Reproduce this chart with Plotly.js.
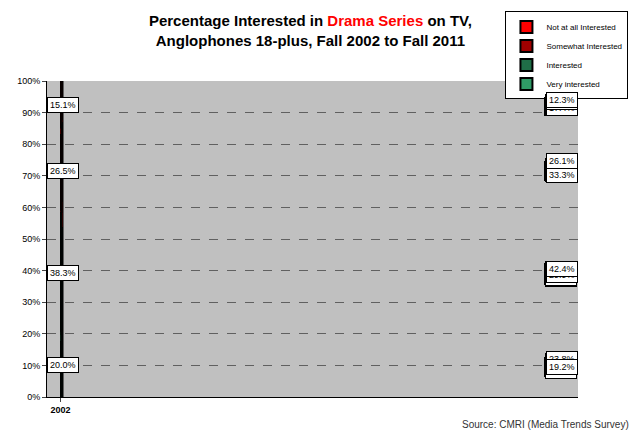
<!DOCTYPE html>
<html><head><meta charset="utf-8">
<script src="https://cdn.plot.ly/plotly-3.0.1.min.js"></script>
<style>body{margin:0;background:#fff}</style>
</head><body>
<div id="chart" style="width:640px;height:438px"></div>
<script>
var years = ['2002','2003','2004','2005','2006','2007','2008','2009','2010','2011','Average'];
var veryInt = [17.7,20.5,19.6,22.8,21.4,17.8,16.6,21.0,23.8,19.2,20.0];
var interested = [40.7,38.5,39.9,34.8,38.2,39.0,42.1,37.7,29.9,42.4,38.3];
var somewhat = [24.7,26.0,25.3,26.1,26.7,28.3,24.7,23.9,33.3,26.1,26.5];
var notAtAll = [17.0,15.0,15.2,16.3,13.8,14.9,16.6,17.4,12.9,12.3,15.1];

var series = [
  {name: 'Very interested', y: veryInt, color: '#2f9a66'},
  {name: 'Interested', y: interested, color: '#1f6e47'},
  {name: 'Somewhat Interested', y: somewhat, color: '#a00000'},
  {name: 'Not at all Interested', y: notAtAll, color: '#ff0000'}
];

var data = series.map(function(s) {
  return {
    type: 'bar', x: years, y: s.y, name: s.name,
    marker: {color: s.color, line: {color: '#000', width: 0.5}},
    hoverinfo: 'none'
  };
});

var annotations = [];
years.forEach(function(yr, i) {
  var base = 0;
  series.forEach(function(s) {
    annotations.push({
      x: yr, y: base + s.y[i] / 2, text: s.y[i].toFixed(1) + '%',
      showarrow: false, bgcolor: '#fff', bordercolor: '#000', borderwidth: 1,
      borderpad: 2, font: {family: 'Arial, Liberation Sans', size: 9, color: '#000'}
    });
    base += s.y[i];
  });
});
annotations.push({
  xref: 'paper', yref: 'paper', x: 1.1, y: -0.086, xanchor: 'right', yanchor: 'middle',
  text: 'Source: CMRI (Media Trends Survey)', showarrow: false,
  font: {family: 'Arial, Liberation Sans', size: 10, color: '#333'}
});

var layout = {
  width: 640, height: 438,
  margin: {l: 47, r: 57, t: 73, b: 41},
  barmode: 'stack', bargap: 0.28,
  plot_bgcolor: '#c0c0c0', paper_bgcolor: '#fff',
  title: {
    text: 'Percentage Interested in <span style="color:#ff0000">Drama Series</span> on TV,<br>Anglophones 18-plus, Fall 2002 to Fall 2011',
    x: 0.485, xanchor: 'center', y: 0.94,
    font: {family: 'Arial, Liberation Sans', size: 15, color: '#000', weight: 'bold'}
  },
  xaxis: {
    type: 'category',
    tickfont: {family: 'Arial, Liberation Sans', size: 9, color: '#000', weight: 'bold'},
    showline: true, linecolor: '#000', ticks: 'outside', ticklen: 4
  },
  yaxis: {
    range: [0, 100], dtick: 10, ticksuffix: '%',
    tickfont: {family: 'Arial, Liberation Sans', size: 9, color: '#000'},
    showgrid: true, gridcolor: '#000', griddash: 'dash', gridwidth: 0.5,
    showline: true, linecolor: '#000', ticks: 'outside', ticklen: 4, zeroline: false
  },
  legend: {
    x: 1.095, xanchor: 'right', y: 1.22, yanchor: 'top',
    traceorder: 'reversed', bordercolor: '#000', borderwidth: 1, bgcolor: '#fff',
    font: {family: 'Arial, Liberation Sans', size: 8, color: '#000'},
    itemwidth: 30, tracegroupgap: 0, itemsizing: 'constant'
  },
  annotations: annotations,
  showlegend: true
};

Plotly.newPlot('chart', data, layout, {displayModeBar: false, staticPlot: true});
</script>
</body></html>
